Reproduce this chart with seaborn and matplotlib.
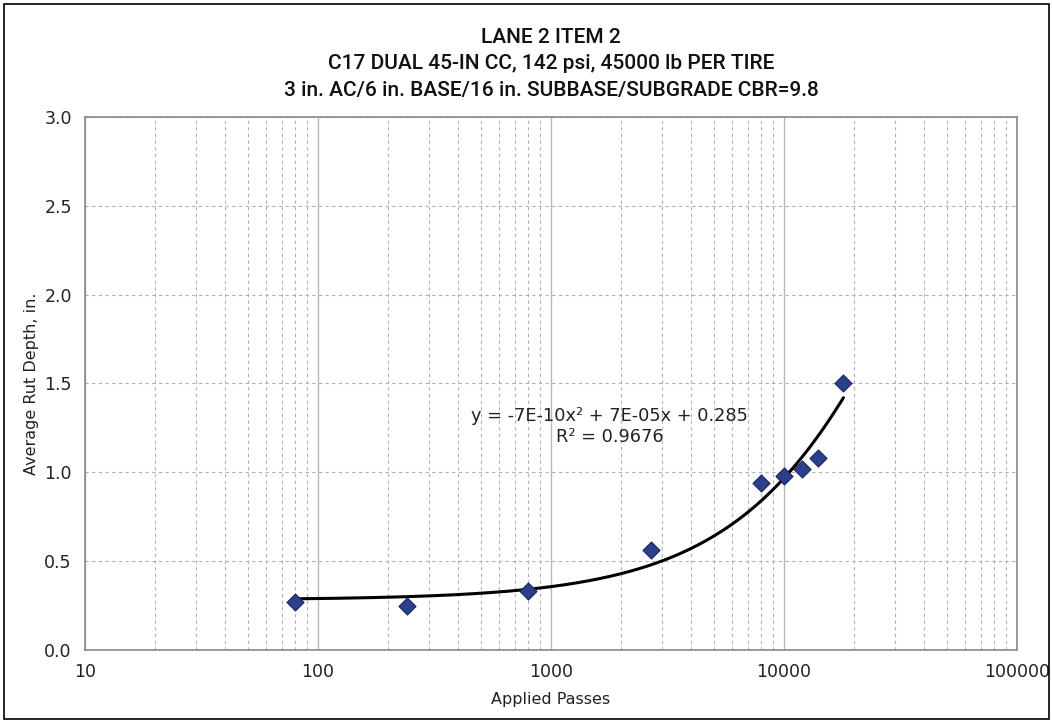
import numpy as np
import pandas as pd
import matplotlib
matplotlib.use('Agg')
import matplotlib.pyplot as plt
import seaborn as sns
from matplotlib.ticker import LogLocator, FixedLocator, MultipleLocator, FuncFormatter
from matplotlib.patches import Rectangle

# data
passes = [80, 240, 800, 2700, 8000, 10000, 12000, 14000, 18000]
rut_depth = [0.27, 0.25, 0.33, 0.56, 0.94, 0.98, 1.02, 1.08, 1.50]

title_lines = ['LANE 2 ITEM 2',
               'C17 DUAL 45-IN CC, 142 psi, 45000 lb PER TIRE',
               '3 in. AC/6 in. BASE/16 in. SUBBASE/SUBGRADE CBR=9.8']
eq_text = 'y = -7E-10x² + 7E-05x + 0.285\nR² = 0.9676'

sns.set_style('white')
plt.rcParams['font.family'] = ['DejaVu Sans']

df = pd.DataFrame({'passes': passes, 'rut': rut_depth})

# polynomial trendline (order 2), like the spreadsheet one
coef = np.polyfit(df['passes'], df['rut'], 2)
xs = np.logspace(np.log10(min(passes)), np.log10(max(passes)), 200)
trend = pd.DataFrame({'passes': xs, 'rut': np.polyval(coef, xs)})

fig = plt.figure(figsize=(10.52, 7.23), dpi=100)
ax = fig.add_axes([0.0808, 0.101, 0.8859, 0.7372])

sns.lineplot(data=trend, x='passes', y='rut', color='black', linewidth=2.2, ax=ax, zorder=3)
sns.scatterplot(data=df, x='passes', y='rut', marker='D', s=75, color='#2B3F8C',
                edgecolor='#1A2560', linewidth=0.8, ax=ax, zorder=4)

ax.set_xscale('log')
ax.set_xlim(10, 100000)
ax.set_ylim(0, 3.0)

ax.xaxis.set_major_locator(FixedLocator([10, 100, 1000, 10000, 100000]))
ax.xaxis.set_major_formatter(FuncFormatter(lambda v, p: f'{int(v)}'))
ax.xaxis.set_minor_locator(LogLocator(base=10, subs=np.arange(2, 10)))
ax.yaxis.set_major_locator(MultipleLocator(0.5))
ax.yaxis.set_minor_locator(MultipleLocator(0.1))
ax.yaxis.set_major_formatter(FuncFormatter(lambda v, p: f'{v:.1f}'))

ax.grid(which='major', axis='x', color='#B8B8B8', linestyle='-', linewidth=1.0)
ax.grid(which='minor', axis='x', color='#B0B0B0', linestyle=(0, (3, 3)), linewidth=0.8)
ax.grid(which='major', axis='y', color='#B0B0B0', linestyle=(0, (3, 3)), linewidth=0.8)
ax.set_axisbelow(True)

for s in ax.spines.values():
    s.set_color('#8A8A8A')
    s.set_linewidth(1.2)

ax.tick_params(axis='both', which='major', direction='out', length=6, color='#707070',
               labelsize=12.5, labelcolor='#222222', width=1)
ax.tick_params(axis='x', which='minor', direction='out', length=3, color='#707070')
ax.tick_params(axis='y', which='minor', direction='in', length=5, color='#707070')

ax.set_xlabel('Applied Passes', fontsize=11.5, color='#222222', labelpad=8)
ax.set_ylabel('Average Rut Depth, in.', fontsize=11.5, color='#222222', labelpad=4)

narrow = ['Roboto', 'DejaVu Sans']
for i, line in enumerate(title_lines):
    fig.text(0.524, 0.948 - i * 0.0365, line, ha='center', va='center',
             fontsize=15, family=narrow, fontweight='medium', color='#111111')

ax.text(1790, 1.26, eq_text, ha='center', va='center', fontsize=12.8,
        color='#222222', linespacing=1.2, zorder=5)

# outer frame around the whole chart
fig.patches.append(Rectangle((0.004, 0.006), 0.993, 0.989, transform=fig.transFigure,
                             fill=False, edgecolor='black', linewidth=1.2))

fig.savefig('out.png', dpi=100)
